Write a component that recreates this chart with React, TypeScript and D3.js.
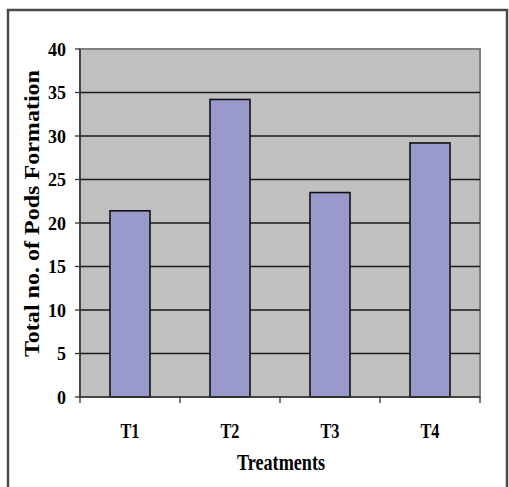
import React from "react";
import * as d3 from "d3";

const categories = ["T1", "T2", "T3", "T4"];
const values = [21.4, 34.2, 23.5, 29.2];
const yTicks = [0, 5, 10, 15, 20, 25, 30, 35, 40];
const xTitle = "Treatments";
const yTitle = "Total no. of Pods Formation";

export default function App() {
  const W = 509, H = 487;
  const left = 80, right = 480, top = 49, bottom = 397;
  const x = d3.scaleBand<string>().domain(categories).range([left, right]).paddingInner(0.6).paddingOuter(0.3);
  const xb = d3.scaleBand<string>().domain(categories).range([left, right]);
  const y = d3.scaleLinear().domain([0, 40]).range([bottom, top]);
  const font = "'Liberation Serif', 'Times New Roman', serif";
  return (
    <svg width={W} height={H} style={{ position: "absolute", left: 0, top: 0, background: "#fff" }} fontFamily={font}>
      <rect x={8} y={10} width={499} height={490} fill="#fff" stroke="#4a4a4a" strokeWidth={2.5} />
      <rect x={left} y={top} width={right - left} height={bottom - top} fill="#c0c0c0" stroke="#808080" strokeWidth={2} />
      {yTicks.filter(t => t > 0 && t < 40).map(t => (
        <line key={t} x1={left} x2={right} y1={y(t)} y2={y(t)} stroke="#1a1a1a" strokeWidth={1.3} />
      ))}
      {categories.map((c, i) => (
        <rect key={c} x={x(c)} y={y(values[i])} width={x.bandwidth()} height={bottom - y(values[i])}
          fill="#9999cc" stroke="#111" strokeWidth={1.6} />
      ))}
      <line x1={left} x2={left} y1={top} y2={bottom} stroke="#333" strokeWidth={1.5} />
      <line x1={left} x2={right} y1={bottom} y2={bottom} stroke="#333" strokeWidth={1.5} />
      {yTicks.map(t => (
        <g key={t}>
          <line x1={left - 5} x2={left} y1={y(t)} y2={y(t)} stroke="#333" strokeWidth={1.3} />
          <text x={66} y={y(t)} dy="0.36em" textAnchor="end" fontSize={19} fontWeight="bold"
            textLength={t < 10 ? 9 : 18} lengthAdjust="spacingAndGlyphs">{t}</text>
        </g>
      ))}
      {[...categories.map(c => xb(c) as number), right].map((v, i) => (
        <line key={i} x1={v} x2={v} y1={bottom} y2={bottom + 6} stroke="#333" strokeWidth={1.3} />
      ))}
      {categories.map(c => (
        <text key={c} x={(xb(c) as number) + xb.bandwidth() / 2} y={438} textAnchor="middle" fontSize={20} fontWeight="bold"
          textLength={19} lengthAdjust="spacingAndGlyphs">{c}</text>
      ))}
      <text x={281} y={470} textAnchor="middle" fontSize={24} fontWeight="bold" textLength={88} lengthAdjust="spacingAndGlyphs">{xTitle}</text>
      <text transform={`translate(39,${(70 + 357) / 2}) rotate(-90)`} textAnchor="middle" fontSize={20} fontWeight="bold" textLength={287} lengthAdjust="spacingAndGlyphs">{yTitle}</text>
    </svg>
  );
}
